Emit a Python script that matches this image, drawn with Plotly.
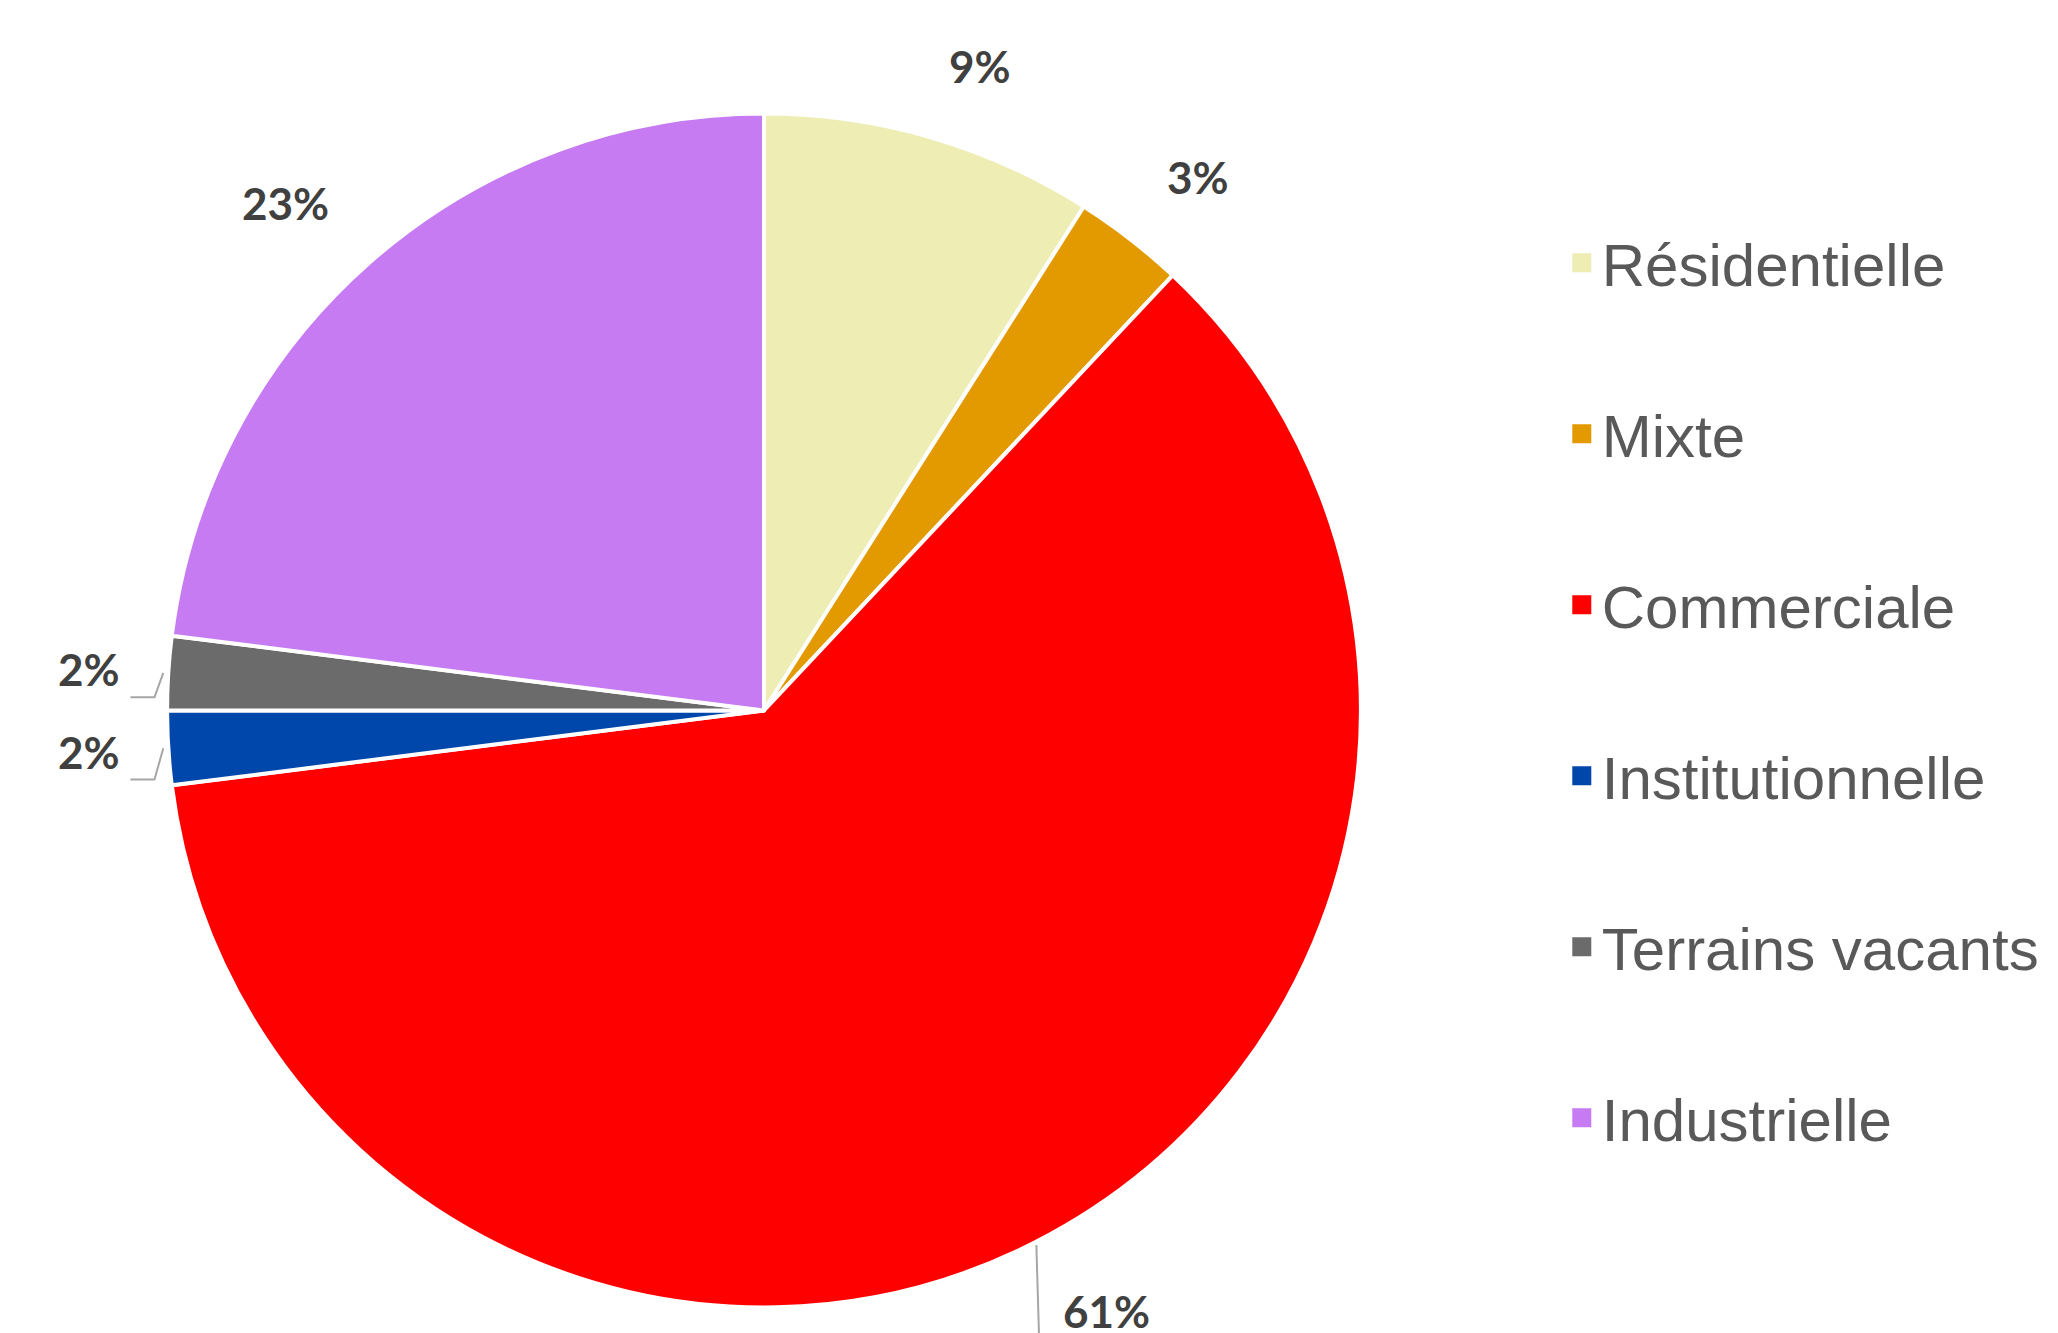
import math
import plotly.graph_objects as go

categories = ["Résidentielle", "Mixte", "Commerciale", "Institutionnelle", "Terrains vacants", "Industrielle"]
values = [9, 3, 61, 2, 2, 23]
colors = ["#EDEDB4", "#E39A00", "#FF0000", "#0047AB", "#6B6B6B", "#C77BF3"]
# leader style per label: None, "elbow" (small bent line to the left), "down" (vertical line)
leaders = [None, None, "down", "elbow", "elbow", None]

W, H = 2058, 1333
dom_x = [0.0773, 0.6574]
dom_y = [0.0251, 0.9209]

fig = go.Figure()
fig.add_trace(go.Pie(
    labels=categories, values=values, sort=False, direction="clockwise", rotation=0,
    marker=dict(colors=colors, line=dict(color="white", width=4)),
    textinfo="none", showlegend=False, hoverinfo="label+percent",
    domain=dict(x=dom_x, y=dom_y),
))

for cat, col in zip(categories, colors):
    fig.add_trace(go.Scatter(
        x=[None], y=[None], mode="markers", name=cat, legendgroup=cat,
        marker=dict(symbol="square", size=16, color=col, line=dict(color=col, width=3)),
    ))

# pie geometry in pixels (derived from the domain)
cx = (dom_x[0] + dom_x[1]) / 2 * W
cy = (1 - (dom_y[0] + dom_y[1]) / 2) * H
r = min((dom_x[1] - dom_x[0]) * W, (dom_y[1] - dom_y[0]) * H) / 2

def px(x):
    return x / W

def py(y):
    return 1 - y / H

total = sum(values)
cum = 0
annotations = []
shapes = []
ka = 1.097  # label anchor distance (fraction of radius)
for v, lead in zip(values, leaders):
    mid = (cum + v / 2) / total * 2 * math.pi
    cum += v
    sx, sy = math.sin(mid), -math.cos(mid)
    ax_, ay_ = cx + ka * r * sx, cy + ka * r * sy
    ex, ey = cx + 1.005 * r * sx, cy + 1.005 * r * sy
    xanchor = "center" if abs(sx) < 0.15 else ("left" if sx > 0 else "right")
    yanchor = "middle" if abs(sy) < 0.2 else ("top" if sy > 0 else "bottom")
    xshift, yshift = 0, 0
    if yanchor == "bottom":
        yshift = -12
    if yanchor == "middle":
        xshift = 12
    txt = f"{round(v / total * 100)}%"
    if lead == "down":
        shapes.append(dict(type="path", xref="paper", yref="paper",
                           path=f"M {px(ex)},{py(ey)} L {px(ex + 4)},{py(H + 40)}",
                           line=dict(color="#A6A6A6", width=2)))
        yanchor = "bottom"
        yshift = 0
        ay_ = H - 2
    elif lead == "elbow":
        hy = ay_ + 28
        shapes.append(dict(type="path", xref="paper", yref="paper",
                           path=f"M {px(ax_ + 8 + xshift)},{py(hy)} L {px(ax_ + 32 + xshift)},{py(hy)} L {px(ex - 2)},{py(ey)}",
                           line=dict(color="#A6A6A6", width=2)))
    annotations.append(dict(x=px(ax_), y=py(ay_), xref="paper", yref="paper", text=txt,
                            showarrow=False, xanchor=xanchor, yanchor=yanchor,
                            xshift=xshift, yshift=yshift,
                            font=dict(family="Lato", size=44, color="#404040", weight="bold")))

fig.update_layout(
    width=W, height=H,
    margin=dict(l=0, r=0, t=0, b=0),
    paper_bgcolor="white", plot_bgcolor="white",
    xaxis=dict(visible=False), yaxis=dict(visible=False),
    annotations=annotations, shapes=shapes,
    legend=dict(
        x=0.755, y=0.843, xanchor="left", yanchor="top",
        traceorder="grouped", tracegroupgap=90, itemsizing="trace",
        font=dict(family="Liberation Sans", size=60, color="#595959"),
    ),
)

fig.write_html("out.html")
